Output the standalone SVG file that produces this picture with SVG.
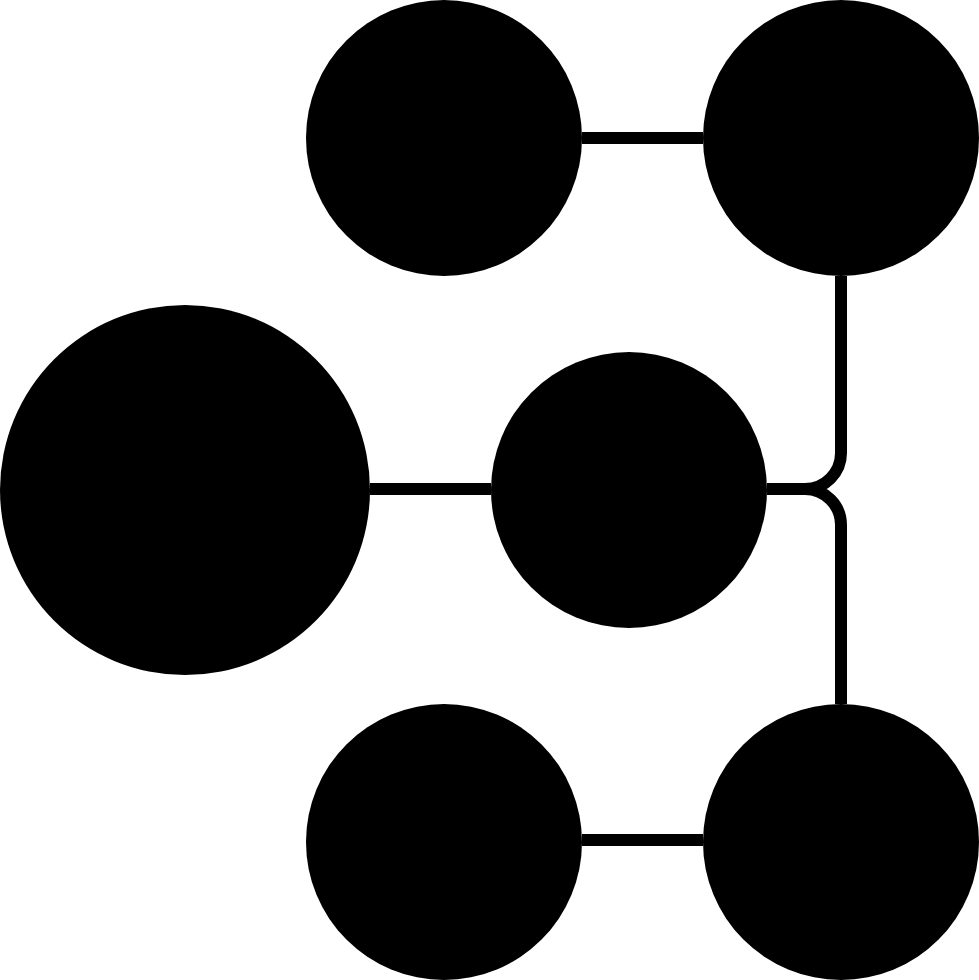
<svg xmlns="http://www.w3.org/2000/svg" width="979" height="980" viewBox="0 0 979 980">
<style>
.n{fill:#000}
.c{fill:none;stroke:#000;stroke-width:12}
</style>
<rect width="979" height="980" fill="#fff"/>
<g id="connectors">
<path class="c" d="M582,138 H703"/>
<path class="c" d="M370,489 H491"/>
<path class="c" d="M582,840 H703"/>
<path class="c" d="M767,489 H806"/>
<path class="c" d="M841,276 V453 A36,36 0 0 1 805,489"/>
<path class="c" d="M805,489 A36,36 0 0 1 841,525 V704"/>
</g>
<g id="node-top-left"><circle class="n" cx="444" cy="138" r="138"/></g>
<g id="node-top-right"><circle class="n" cx="841" cy="138" r="138"/></g>
<g id="node-big-left"><circle class="n" cx="185" cy="490" r="185"/></g>
<g id="node-middle"><circle class="n" cx="629" cy="490" r="138"/></g>
<g id="node-bottom-left"><circle class="n" cx="444" cy="842" r="138"/></g>
<g id="node-bottom-right"><circle class="n" cx="841" cy="842" r="138"/></g>
</svg>
